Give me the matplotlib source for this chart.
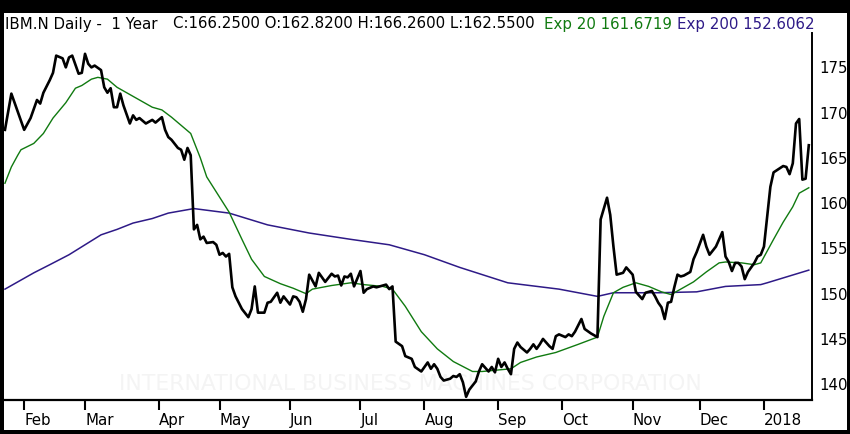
import matplotlib
matplotlib.use("Agg")
import matplotlib.pyplot as plt
from matplotlib.patches import Rectangle

# chart values, x = trading day index (0 = late Jan 2017)
price_idx = [0, 2, 6, 8, 10, 11, 12, 14, 15, 16, 18, 19, 20, 21, 23, 24, 25, 26, 27, 28,
             30, 31, 32, 33, 34, 35, 36, 37, 39, 40, 41, 42, 44, 46, 47, 49, 50, 51, 52, 54,
             55, 56, 57, 58, 59, 60, 61, 62, 63, 65, 66, 67, 68, 69, 70, 71, 72, 74, 76, 77,
             78, 79, 81, 82, 83, 85, 86, 87, 89, 90, 91, 92, 93, 94, 95, 97, 98, 99, 100, 102,
             103, 104, 105, 106, 107, 108, 109, 111, 112, 113, 115, 116, 117, 119, 120, 121, 122, 124, 125, 127,
             128, 130, 131, 132, 133, 134, 135, 136, 137, 139, 140, 141, 142, 143, 144, 145, 147, 148, 149, 151,
             152, 153, 154, 155, 156, 157, 158, 159, 160, 161, 163, 164, 165, 166, 167, 168, 170, 171, 172, 173,
             175, 176, 177, 178, 180, 181, 183, 185, 186, 188, 189, 190, 191, 193, 194, 195, 196, 197, 199, 200,
             202, 203, 204, 205, 206, 207, 208, 209, 210, 211, 212, 214, 215, 216, 218, 219, 220, 222, 223, 224,
             225, 226, 227, 228, 229, 230, 231, 232, 233, 234, 235, 236, 237, 238, 239, 240, 243, 244, 245, 246,
             247, 248, 249, 250, 251]
price_val = [168.1, 172.1, 168.1, 169.4, 171.4, 171.0, 172.2, 173.6, 174.4, 176.3, 176.0, 175.0, 176.1, 176.3, 174.3, 174.4, 176.5, 175.4, 175.0, 175.2,
             174.7, 172.8, 172.2, 172.7, 170.6, 170.6, 172.1, 170.8, 168.8, 169.7, 169.2, 169.4, 168.8, 169.2, 168.9, 169.5, 168.1, 167.3, 167.0, 166.1,
             165.9, 164.8, 166.1, 165.3, 157.1, 157.6, 156.0, 156.3, 155.6, 155.7, 155.4, 154.3, 154.5, 154.1, 154.4, 150.7, 149.7, 148.3, 147.4, 148.3,
             150.8, 147.9, 147.9, 149.0, 149.1, 150.1, 149.0, 149.7, 148.8, 149.7, 149.6, 149.1, 148.0, 149.4, 152.1, 150.8, 152.3, 151.8, 151.3, 152.2,
             151.9, 152.0, 150.9, 151.9, 151.8, 152.2, 150.8, 152.5, 150.1, 150.5, 150.8, 150.7, 150.8, 151.0, 150.5, 150.8, 144.7, 144.2, 143.1, 142.8,
             141.9, 141.4, 141.9, 142.4, 141.7, 142.2, 141.7, 140.8, 140.4, 140.6, 140.9, 140.8, 141.1, 140.2, 138.6, 139.4, 140.3, 141.4, 142.2, 141.4,
             141.9, 141.3, 142.8, 141.9, 142.4, 141.7, 141.1, 143.9, 144.6, 144.1, 143.5, 143.9, 144.4, 143.9, 144.4, 145.0, 144.2, 143.9, 145.3, 145.5,
             145.2, 145.5, 145.3, 145.8, 147.2, 146.1, 145.6, 145.2, 158.2, 160.6, 158.7, 155.2, 152.1, 152.3, 152.9, 152.5, 152.1, 150.2, 149.4, 150.1,
             150.3, 149.7, 149.0, 148.5, 147.2, 149.0, 149.1, 150.7, 152.1, 151.9, 152.0, 152.4, 153.8, 154.6, 156.5, 155.2, 154.3, 155.2, 156.0, 156.8,
             154.1, 153.5, 152.5, 153.4, 153.4, 153.0, 151.6, 152.4, 152.9, 153.4, 154.1, 154.3, 155.2, 158.5, 161.8, 163.4, 164.1, 164.0, 163.2, 164.4,
             168.8, 169.3, 162.6, 162.7, 166.4]

ema20_idx = [0, 2, 4, 5, 9, 12, 15, 19, 22, 24, 27, 29, 32, 35, 38, 41, 46, 49, 52, 55,
             58, 61, 63, 70, 74, 77, 81, 86, 90, 94, 96, 102, 108, 112, 118, 121, 125, 130, 135, 140,
             146, 149, 158, 161, 166, 172, 179, 185, 187, 190, 193, 197, 201, 205, 208, 211, 215, 219, 223, 225,
             230, 234, 236, 240, 243, 246, 248, 251]
ema20_val = [162.2, 164.0, 165.3, 165.9, 166.6, 167.7, 169.4, 171.1, 172.7, 173.0, 173.7, 173.9, 173.7, 172.8, 172.2, 171.6, 170.6, 170.3, 169.5, 168.6,
             167.7, 165.0, 162.9, 159.0, 156.0, 153.8, 151.9, 151.1, 150.6, 150.0, 150.5, 150.9, 151.2, 151.0, 150.8, 150.5, 148.6, 145.8, 143.9, 142.5,
             141.4, 141.4, 141.7, 142.4, 143.0, 143.5, 144.4, 145.2, 147.5, 150.1, 150.7, 151.2, 150.8, 150.2, 149.9, 150.5, 151.3, 152.4, 153.4, 153.5,
             153.4, 153.2, 153.4, 156.0, 157.9, 159.6, 161.1, 161.7]

ema200_idx = [0, 9, 14, 20, 25, 30, 35, 40, 46, 51, 59, 70, 82, 95, 108, 120, 131, 142, 157, 173,
              185, 190, 204, 216, 225, 236, 238, 251]
ema200_val = [150.5, 152.3, 153.2, 154.3, 155.4, 156.5, 157.1, 157.8, 158.3, 158.9, 159.4, 158.9, 157.6, 156.7, 156.0, 155.4, 154.3, 152.9, 151.2, 150.5,
              149.7, 150.1, 150.1, 150.2, 150.8, 151.0, 151.2, 152.6]

month_idx = [6, 25, 48, 67, 89, 111, 131, 154, 174, 196, 217, 237]
month_labels = ["Feb", "Mar", "Apr", "May", "Jun", "Jul", "Aug", "Sep", "Oct", "Nov", "Dec", "2018"]
price_ticks = [140, 145, 150, 155, 160, 165, 170, 175]

W, H = 850, 434
green = "#107a10"
purple = "#2e1a87"

fig = plt.figure(figsize=(W / 100, H / 100), dpi=100, facecolor="black")
# white panel inside the black frame, kept behind the axes
fig.patches.append(Rectangle((4 / W, 4 / H), 843 / W, 417 / H, transform=fig.transFigure,
                             facecolor="white", edgecolor="none", zorder=-10))

ax = fig.add_axes([4 / W, 34 / H, 808 / W, 367 / H])
ax.set_zorder(2)
ax.set_facecolor("white")

ax.plot(ema200_idx, ema200_val, color=purple, linewidth=1.1, zorder=3)
ax.plot(ema20_idx, ema20_val, color=green, linewidth=1.0, zorder=4)
ax.plot(price_idx, price_val, color="black", linewidth=1.9, zorder=5)

ax.set_xlim(-0.3, 252)
ax.set_ylim(138.25, 178.8)

for side in ["top", "left"]:
    ax.spines[side].set_visible(False)
ax.spines["bottom"].set_linewidth(1.6)
ax.spines["right"].set_linewidth(1.4)

ax.yaxis.tick_right()
ax.set_yticks(price_ticks)
ax.set_yticklabels([str(v) for v in price_ticks])
ax.tick_params(axis="y", length=0, pad=5, labelsize=10.8)

ax.set_xticks(month_idx)
ax.set_xticklabels(month_labels)
ax.tick_params(axis="x", direction="out", length=7.5, width=1.5, pad=2, labelsize=10.8)
for lab in ax.get_xticklabels():
    lab.set_ha("left")

# faint company watermark, inside the plot behind the lines
ax.text(0.5035, 0.043, "INTERNATIONAL BUSINESS MACHINES CORPORATION", transform=ax.transAxes,
        ha="center", va="center", fontsize=15.8, color="#f4f4f4", zorder=1)

# header line, pieces placed at their pixel positions
ty = 1 - 24 / H
fig.text(5 / W, ty, "IBM.N Daily -  1 Year", va="center", fontsize=10.8, color="black")
fig.text(173 / W, ty, "C:166.2500 O:162.8200 H:166.2600 L:162.5500", va="center", fontsize=10.8, color="black")
fig.text(544 / W, ty, "Exp 20 161.6719", va="center", fontsize=10.8, color=green)
fig.text(677 / W, ty, "Exp 200 152.6062", va="center", fontsize=10.8, color=purple)

fig.savefig("out.png", dpi=100, facecolor="black")
